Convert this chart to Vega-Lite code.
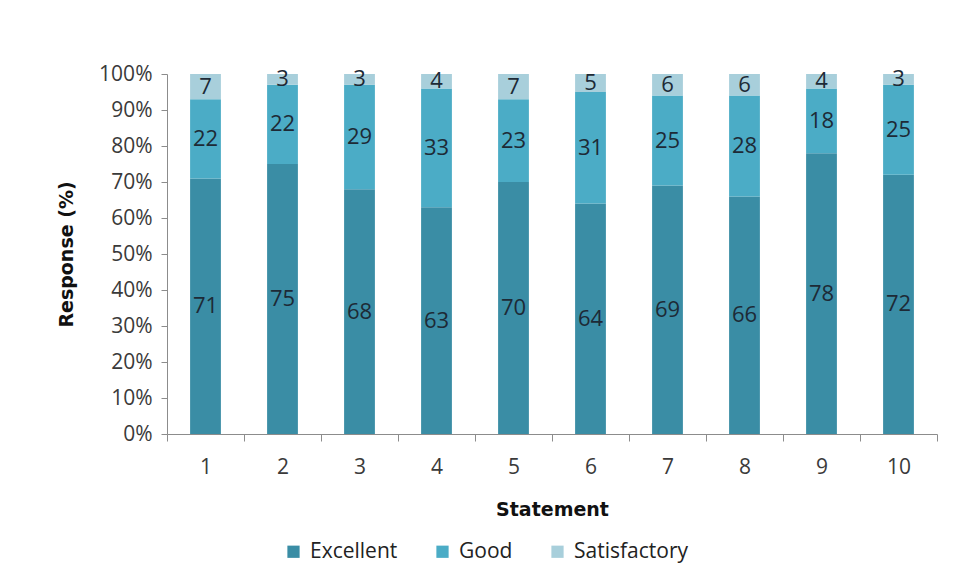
{
  "$schema": "https://vega.github.io/schema/vega-lite/v6.json",
  "autosize": "none",
  "width": 770,
  "height": 360,
  "padding": {"left": 167, "top": 74, "right": 18, "bottom": 150},
  "background": "white",
  "config": {
    "font": "Open Sans",
    "view": {"stroke": null},
    "axis": {"labelFont": "Open Sans", "titleFont": "DejaVu Sans", "labelColor": "#3a3a3a", "titleColor": "#111111", "domainColor": "#8c8c8c", "tickColor": "#8c8c8c", "grid": false}
  },
  "data": {
    "values": [
      {"statement": "1", "rating": "Excellent", "value": 71},
      {"statement": "1", "rating": "Good", "value": 22},
      {"statement": "1", "rating": "Satisfactory", "value": 7},
      {"statement": "2", "rating": "Excellent", "value": 75},
      {"statement": "2", "rating": "Good", "value": 22},
      {"statement": "2", "rating": "Satisfactory", "value": 3},
      {"statement": "3", "rating": "Excellent", "value": 68},
      {"statement": "3", "rating": "Good", "value": 29},
      {"statement": "3", "rating": "Satisfactory", "value": 3},
      {"statement": "4", "rating": "Excellent", "value": 63},
      {"statement": "4", "rating": "Good", "value": 33},
      {"statement": "4", "rating": "Satisfactory", "value": 4},
      {"statement": "5", "rating": "Excellent", "value": 70},
      {"statement": "5", "rating": "Good", "value": 23},
      {"statement": "5", "rating": "Satisfactory", "value": 7},
      {"statement": "6", "rating": "Excellent", "value": 64},
      {"statement": "6", "rating": "Good", "value": 31},
      {"statement": "6", "rating": "Satisfactory", "value": 5},
      {"statement": "7", "rating": "Excellent", "value": 69},
      {"statement": "7", "rating": "Good", "value": 25},
      {"statement": "7", "rating": "Satisfactory", "value": 6},
      {"statement": "8", "rating": "Excellent", "value": 66},
      {"statement": "8", "rating": "Good", "value": 28},
      {"statement": "8", "rating": "Satisfactory", "value": 6},
      {"statement": "9", "rating": "Excellent", "value": 78},
      {"statement": "9", "rating": "Good", "value": 18},
      {"statement": "9", "rating": "Satisfactory", "value": 4},
      {"statement": "10", "rating": "Excellent", "value": 72},
      {"statement": "10", "rating": "Good", "value": 25},
      {"statement": "10", "rating": "Satisfactory", "value": 3}
    ]
  },
  "encoding": {
    "x": {
      "field": "statement",
      "type": "ordinal",
      "sort": null,
      "scale": {"paddingInner": 0, "paddingOuter": 0},
      "axis": {
        "title": "Statement",
        "labelAngle": 0,
        "labelFontSize": 21,
        "labelPadding": 15,
        "tickBand": "extent",
        "tickSize": 7,
        "titleFontSize": 19,
        "titleFontWeight": "bold",
        "titlePadding": 23
      }
    },
    "y": {
      "aggregate": "sum",
      "field": "value",
      "type": "quantitative",
      "stack": "zero",
      "scale": {"domain": [0, 100]},
      "axis": {
        "title": "Response (%)",
        "values": [0, 10, 20, 30, 40, 50, 60, 70, 80, 90, 100],
        "labelExpr": "datum.value + '%'",
        "labelFontSize": 21,
        "labelPadding": 9,
        "tickSize": 6,
        "titleFontSize": 19,
        "titleFontWeight": "bold",
        "titlePadding": 22
      }
    },
    "order": {"field": "rating", "type": "nominal", "sort": "ascending"}
  },
  "layer": [
    {
      "mark": {"type": "bar", "width": {"band": 0.4}},
      "encoding": {
        "color": {
          "field": "rating",
          "type": "nominal",
          "scale": {"domain": ["Excellent", "Good", "Satisfactory"], "range": ["#3a8da5", "#4bacc6", "#a8cfdb"]},
          "legend": {
            "title": null,
            "orient": "none",
            "legendX": 116,
            "legendY": 467,
            "direction": "horizontal",
            "symbolType": "square",
            "symbolSize": 150,
            "symbolStrokeWidth": 0,
            "labelFontSize": 21,
            "labelFont": "Open Sans",
            "labelColor": "#222222",
            "columnPadding": 34,
            "labelOffset": 6
          }
        }
      }
    },
    {
      "mark": {"type": "text", "fontSize": 22, "color": "#1d2a36", "font": "Open Sans"},
      "encoding": {
        "y": {
          "aggregate": "sum",
          "field": "value",
          "type": "quantitative",
          "stack": "zero",
          "bandPosition": 0.5
        },
        "detail": {"field": "rating", "type": "nominal"},
        "text": {"aggregate": "sum", "field": "value", "type": "quantitative"}
      }
    }
  ]
}
